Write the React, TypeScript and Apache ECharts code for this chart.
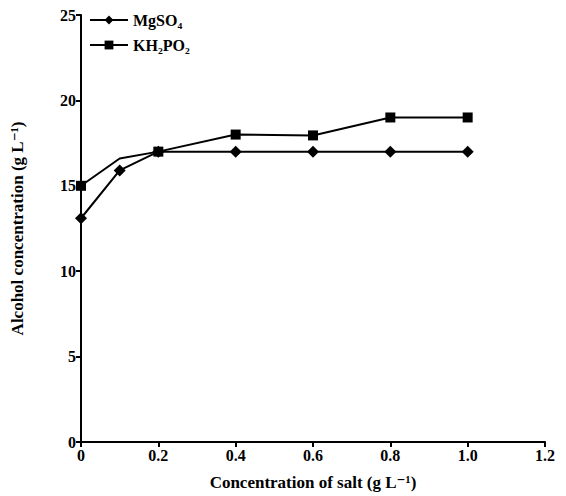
import React, { useEffect, useRef } from "react";
import * as echarts from "echarts";

const xValues = [0, 0.1, 0.2, 0.4, 0.6, 0.8, 1.0];
const mgso4Values = [13.1, 15.9, 17.0, 17.0, 17.0, 17.0, 17.0];
const kh2po2Values = [15.0, 16.6, 17.0, 18.0, 17.95, 19.0, 19.0];
const kh2po2Markers = [true, false, true, true, true, true, true];
const seriesNames = ["MgSO\u2084", "KH\u2082PO\u2082"];
const xTicks = [0, 0.2, 0.4, 0.6, 0.8, 1.0, 1.2];
const yTicks = [0, 5, 10, 15, 20, 25];

const FONT = "'Liberation Serif', 'DejaVu Serif', serif";

export default function App() {
  const ref = useRef<HTMLDivElement>(null);
  useEffect(() => {
    document.body.style.margin = "0";
    const chart = echarts.init(ref.current!, null, { renderer: "svg" });
    const axisCommon = {
      axisLine: { show: true, lineStyle: { color: "#000", width: 2 } },
      axisTick: { show: true, inside: false, length: 5, lineStyle: { color: "#000", width: 2 } },
      splitLine: { show: false },
      axisLabel: { color: "#000", fontFamily: FONT, fontWeight: "bold", fontSize: 16 },
      nameTextStyle: { color: "#000", fontFamily: FONT, fontWeight: "bold", fontSize: 17 },
    };
    chart.setOption({
      animation: false,
      backgroundColor: "#fff",
      grid: { left: 81, right: 21, top: 15, bottom: 54, containLabel: false },
      legend: {
        left: 84,
        top: 7,
        orient: "vertical",
        itemWidth: 38,
        itemHeight: 11,
        itemGap: 9,
        textStyle: { color: "#000", fontFamily: FONT, fontWeight: "bold", fontSize: 16 },
        data: seriesNames,
      },
      xAxis: {
        type: "value",
        min: xTicks[0],
        max: xTicks[xTicks.length - 1],
        interval: 0.2,
        name: "Concentration of salt (g L\u207B\u00B9)",
        nameLocation: "middle",
        nameGap: 32,
        ...axisCommon,
        axisLabel: {
          ...axisCommon.axisLabel,
          margin: 5,
          formatter: (v: number) => (v === 0 ? "0" : v.toFixed(1)),
        },
      },
      yAxis: {
        type: "value",
        min: yTicks[0],
        max: yTicks[yTicks.length - 1],
        interval: 5,
        name: "Alcohol concentration (g L\u207B\u00B9)",
        nameLocation: "middle",
        nameGap: 55,
        ...axisCommon,
        axisLabel: { ...axisCommon.axisLabel, margin: 5 },
      },
      series: [
        {
          name: seriesNames[0],
          type: "line",
          symbol: "diamond",
          symbolSize: 12,
          itemStyle: { color: "#000" },
          lineStyle: { color: "#000", width: 2 },
          data: xValues.map((x, i) => [x, mgso4Values[i]]),
        },
        {
          name: seriesNames[1],
          type: "line",
          symbol: "rect",
          symbolSize: 10,
          itemStyle: { color: "#000" },
          lineStyle: { color: "#000", width: 2 },
          data: xValues.map((x, i) =>
            kh2po2Markers[i]
              ? [x, kh2po2Values[i]]
              : { value: [x, kh2po2Values[i]], symbol: "none" }
          ),
        },
      ],
    });
    return () => chart.dispose();
  }, []);
  return (
    <div
      ref={ref}
      style={{ position: "absolute", left: 0, top: 0, width: 566, height: 496 }}
    />
  );
}
